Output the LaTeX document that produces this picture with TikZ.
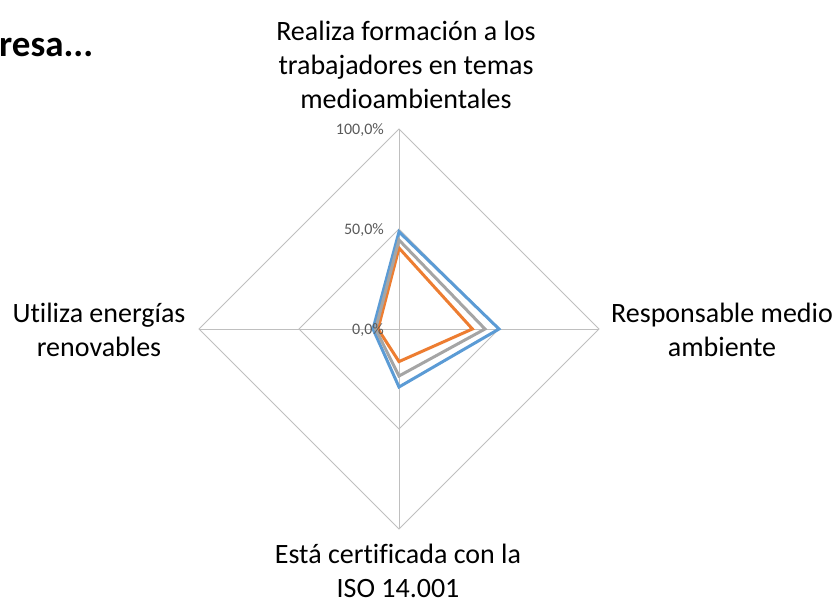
\documentclass[tikz,border=0pt]{standalone}
\usepackage{fontspec}
\setmainfont{Carlito}[Ligatures={NoCommon}]
\definecolor{sblue}{HTML}{5B9BD5}
\definecolor{sorange}{HTML}{ED7D31}
\definecolor{sgray}{HTML}{A5A5A5}
\definecolor{gridc}{HTML}{BFBFBF}
\definecolor{tickc}{HTML}{595959}
\begin{document}
\begin{tikzpicture}[x=1pt,y=-1pt,
  gridline/.style={draw=gridc,line width=0.9pt},
  series/.style={line width=3pt,line join=miter},
  catlabel/.style={font=\fontsize{28}{34}\selectfont,text=black,align=center,inner sep=0pt},
  ticklabel/.style={font=\fontsize{16}{17}\selectfont,text=tickc,anchor=east,inner sep=0pt}]
\useasboundingbox (0,0) rectangle (840,604);
\coordinate (c) at (399,329);
\coordinate (t) at (399,129);
\coordinate (r) at (599,329);
\coordinate (b) at (399,529);
\coordinate (l) at (199,329);
\coordinate (t5) at (399,229);
\coordinate (r5) at (499,329);
\coordinate (b5) at (399,429);
\coordinate (l5) at (299,329);
% grid
\draw[gridline] (t) -- (r) -- (b) -- (l) -- cycle;
\draw[gridline] (t5) -- (r5) -- (b5) -- (l5) -- cycle;
\draw[gridline] (c) -- (t);
\draw[gridline] (c) -- (r);
\draw[gridline] (c) -- (b);
\draw[gridline] (c) -- (l);
% series
\draw[series,sblue] (399,{329-200*0.486}) -- ({399+200*0.50},329) -- (399,{329+200*0.29}) -- ({399-200*0.13},329) -- cycle;
\draw[series,sorange] (399,{329-200*0.405}) -- ({399+200*0.367},329) -- (399,{329+200*0.163}) -- ({399-200*0.105},329) -- cycle;
\draw[series,sgray] (399,{329-200*0.445}) -- ({399+200*0.43},329) -- (399,{329+200*0.235}) -- ({399-200*0.117},329) -- cycle;
% tick labels
\node[ticklabel] (k100) at (384,130) {100,0\%};
\node[ticklabel] (k50) at (384,230) {50,0\%};
\node[ticklabel] (k0) at (384,330) {0,0\%};
% category labels
\node[catlabel] (lt) at (406,65) {Realiza formación a los\\trabajadores en temas\\medioambientales};
\node[catlabel] (lr) at (722,330) {Responsable medio\\ambiente};
\node[catlabel] (lb) at (398,571) {Está certificada con la\\ISO 14.001};
\node[catlabel] (ll) at (99,330) {Utiliza energías\\renovables};
% title fragment
\node[font=\fontsize{37}{40}\selectfont\bfseries,anchor=west,inner sep=0pt] (ttl) at (-1,47) {resa...};
\end{tikzpicture}
\end{document}
